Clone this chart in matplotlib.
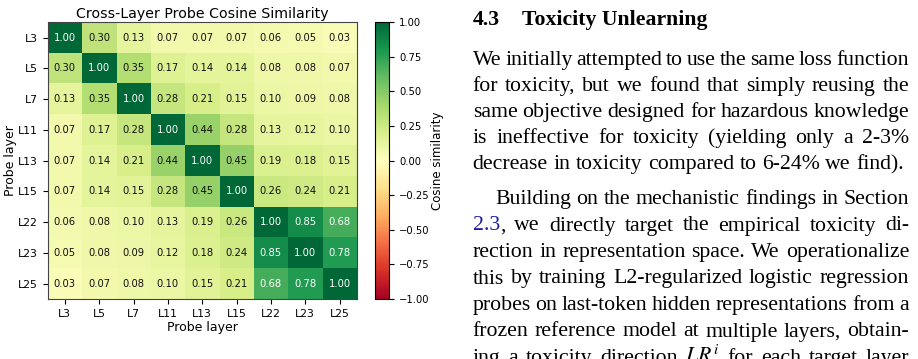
import numpy as np
import matplotlib
matplotlib.use("Agg")
import matplotlib.pyplot as plt
from matplotlib.transforms import IdentityTransform

# ---------------- data ----------------
layers = ["L3", "L5", "L7", "L11", "L13", "L15", "L22", "L23", "L25"]
row_L3 = [1.00, 0.30, 0.13, 0.07, 0.07, 0.07, 0.06, 0.05, 0.03]
row_L5 = [0.30, 1.00, 0.35, 0.17, 0.14, 0.14, 0.08, 0.08, 0.07]
row_L7 = [0.13, 0.35, 1.00, 0.28, 0.21, 0.15, 0.10, 0.09, 0.08]
row_L11 = [0.07, 0.17, 0.28, 1.00, 0.44, 0.28, 0.13, 0.12, 0.10]
row_L13 = [0.07, 0.14, 0.21, 0.44, 1.00, 0.45, 0.19, 0.18, 0.15]
row_L15 = [0.07, 0.14, 0.15, 0.28, 0.45, 1.00, 0.26, 0.24, 0.21]
row_L22 = [0.06, 0.08, 0.10, 0.13, 0.19, 0.26, 1.00, 0.85, 0.68]
row_L23 = [0.05, 0.08, 0.09, 0.12, 0.18, 0.24, 0.85, 1.00, 0.78]
row_L25 = [0.03, 0.07, 0.08, 0.10, 0.15, 0.21, 0.68, 0.78, 1.00]
cbar_ticks = [1.00, 0.75, 0.50, 0.25, 0.00, -0.25, -0.50, -0.75, -1.00]

heading_num = "4.3"
heading_title = "Toxicity Unlearning"
para1 = [
    "We initially attempted to use the same loss function",
    "for toxicity, but we found that simply reusing the",
    "same objective designed for hazardous knowledge",
    "is ineffective for toxicity (yielding only a 2-3%",
    "decrease in toxicity compared to 6-24% we find).",
]
para2 = [
    "Building on the mechanistic findings in Section",
    "2.3, we directly target the empirical toxicity di-",
    "rection in representation space. We operationalize",
    "this by training L2-regularized logistic regression",
    "probes on last-token hidden representations from a",
    "frozen reference model at multiple layers, obtain-",
    "ing a toxicity direction $LR^i$ for each target layer",
]

sim = np.array([row_L3, row_L5, row_L7, row_L11, row_L13,
                row_L15, row_L22, row_L23, row_L25])

plt.rcParams["mathtext.fontset"] = "stix"

W, H = 918, 359
fig = plt.figure(figsize=(W / 100, H / 100), dpi=100)


def px_axes(l, t, r, b):
    return fig.add_axes([l / W, 1 - b / H, (r - l) / W, (b - t) / H])


# ---------------- heatmap ----------------
ax = px_axes(47.7, 22.3, 356.7, 299)
im = ax.imshow(sim, cmap="RdYlGn", vmin=-1, vmax=1, aspect="auto")
for i in range(sim.shape[0]):
    for j in range(sim.shape[1]):
        v = sim[i, j]
        ax.text(j, i, f"{v:.2f}", ha="center", va="center", fontsize=7.2,
                color="white" if v > 0.6 else "#111111")
ax.set_xticks(range(len(layers)), layers, fontsize=7.8)
ax.set_yticks(range(len(layers)), layers, fontsize=7.8)
ax.set_xlabel("Probe layer", fontsize=9, labelpad=1.5)
ax.set_ylabel("Probe layer", fontsize=9, labelpad=1)
ax.set_title("Cross-Layer Probe Cosine Similarity", fontsize=10.2, pad=3)
for s in ax.spines.values():
    s.set_color("#444444")

cax = px_axes(375, 22.3, 389.3, 299)
cb = fig.colorbar(im, cax=cax)
cb.set_ticks(cbar_ticks)
cb.ax.tick_params(labelsize=7.2)
cb.set_label("Cosine similarity", fontsize=8.5, labelpad=1)
cb.outline.set_linewidth(0.8)

# ---------------- paper text ----------------
renderer = fig.canvas.get_renderer()
SERIF = "Liberation Serif"
X0, X1 = 472.7, 909.0
BLUE = "#1c1ca0"


def make(s, fs, weight="normal", color="black"):
    t = fig.text(0, 0, s, fontsize=fs, family=SERIF, weight=weight,
                 color=color, transform=IdentityTransform(), va="baseline")
    return t


def width(s, fs, weight="normal"):
    t = make(s, fs, weight)
    w = t.get_window_extent(renderer).width
    t.remove()
    return w


def natural(line, fs):
    sp = width("n n", fs) - width("nn", fs)
    words = line.split(" ")
    return sum(width(w, fs) for w in words) + sp * (len(words) - 1)


# fit body font size: last line of para1 spans ~472.7 -> 903
target = 903 - X0
fs = 15.0
for _ in range(3):
    fs *= target / natural(para1[-1], fs)

# heading size: "Toxicity Unlearning" spans ~521.7 -> 706
hfs = 15.0
for _ in range(3):
    hfs *= (706 - 521.7) / width(heading_title, hfs, "bold")


def segments(word):
    if word == "2.3,":
        return [("2.3", BLUE), (",", "black")]
    return [(word, "black")]


def draw_line(line, baseline, x0, justify):
    words = line.split(" ")
    sp = width("n n", fs) - width("nn", fs)
    ws = []
    for w in words:
        ws.append(sum(width(s, fs) for s, _ in segments(w)))
    if justify and len(words) > 1:
        gap = (X1 - x0 - sum(ws)) / (len(words) - 1)
    else:
        gap = sp
    x = x0
    y = H - baseline
    for w, wd in zip(words, ws):
        xx = x
        for s, c in segments(w):
            t = make(s, fs, color=c)
            t.set_position((xx, y))
            xx += width(s, fs)
        x += wd + gap


# heading
t = make(heading_num, hfs, "bold")
t.set_position((X0, H - 25))
t = make(heading_title, hfs, "bold")
t.set_position((521.7, H - 25))

LS1 = 26.0
base_p1 = 65.0
for k, line in enumerate(para1):
    draw_line(line, base_p1 + k * LS1, X0, justify=(k < len(para1) - 1))
LS2 = 26.5
base_p2 = 204.0
for k, line in enumerate(para2):
    x0 = X0 + 22.3 if k == 0 else X0
    draw_line(line, base_p2 + k * LS2, x0, justify=True)

fig.savefig("out.png", dpi=100)
